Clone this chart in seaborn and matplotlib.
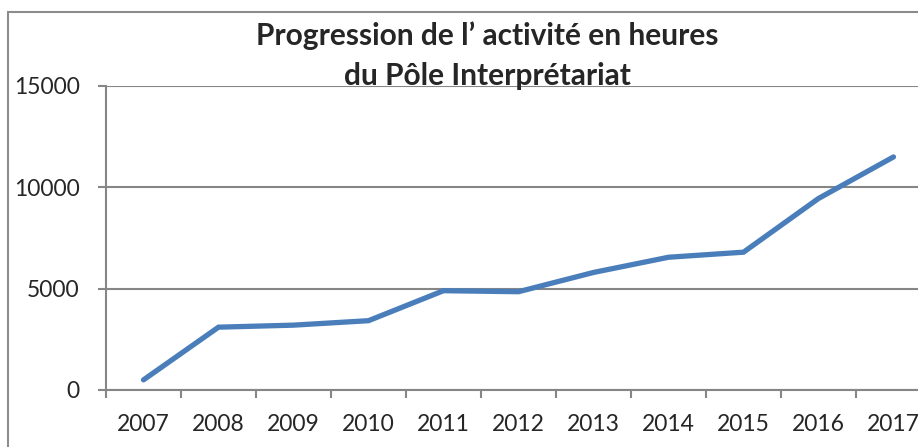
import matplotlib
matplotlib.use("Agg")
import matplotlib.pyplot as plt
import seaborn as sns
import pandas as pd
from matplotlib.patches import Rectangle

# Données
annees = ["2007", "2008", "2009", "2010", "2011", "2012",
          "2013", "2014", "2015", "2016", "2017"]
heures = [500, 3100, 3200, 3420, 4900, 4850, 5800, 6550, 6800, 9450, 11500]
graduations = [0, 5000, 10000, 15000]

df = pd.DataFrame({"annee": annees, "heures": heures})

sns.set_style("white")
plt.rcParams["font.family"] = ["Lato", "DejaVu Sans"]

W, H = 918, 447
fig = plt.figure(figsize=(W / 100, H / 100), dpi=100)

# cadre du graphique (coupé à droite et en bas)
fig.patches.append(Rectangle((8 / W, -0.1), 1.2, 1 - 12 / H + 0.1,
                             transform=fig.transFigure, fill=False,
                             edgecolor="#8c8c8c", linewidth=1.5))

ax = fig.add_axes([106 / W, 1 - 390 / H, 825 / W, 304 / H])
sns.lineplot(data=df, x="annee", y="heures", ax=ax, color="#4a7ebb",
             linewidth=3.8, solid_capstyle="round", solid_joinstyle="miter")

ax.set_xlim(-0.5, len(annees) - 0.5)
ax.set_ylim(0, 15000)
ax.set_yticks(graduations)
ax.set_yticklabels([str(g) for g in graduations])
ax.grid(axis="y", color="#868686", linewidth=1.5)
ax.set_axisbelow(True)

# graduations entre les catégories, étiquettes au centre
ax.set_xticks([i - 0.5 for i in range(len(annees) + 1)])
ax.set_xticklabels([])
ax.set_xticks(range(len(annees)), minor=True)
ax.set_xticklabels(annees, minor=True)
ax.tick_params(axis="x", which="major", direction="out", length=6,
               width=1.5, color="#868686", bottom=True)
ax.tick_params(axis="x", which="minor", length=0, pad=17.5, labelsize=16.5)
ax.tick_params(axis="y", direction="out", length=6, width=1.5,
               color="#868686", left=True, pad=13, labelsize=16.5)

for s in ["top", "right"]:
    ax.spines[s].set_visible(False)
for s in ["left", "bottom"]:
    ax.spines[s].set_color("#868686")
    ax.spines[s].set_linewidth(1.5)

ax.set_xlabel("")
ax.set_ylabel("")

fig.text(487.5 / W, 1 - 36 / H, "Progression de l’ activité en heures",
         ha="center", va="center", fontsize=21.5, fontweight="bold")
fig.text(487.5 / W, 1 - 76 / H, "du Pôle Interprétariat",
         ha="center", va="center", fontsize=21.5, fontweight="bold")

fig.savefig("out.png", dpi=100)
